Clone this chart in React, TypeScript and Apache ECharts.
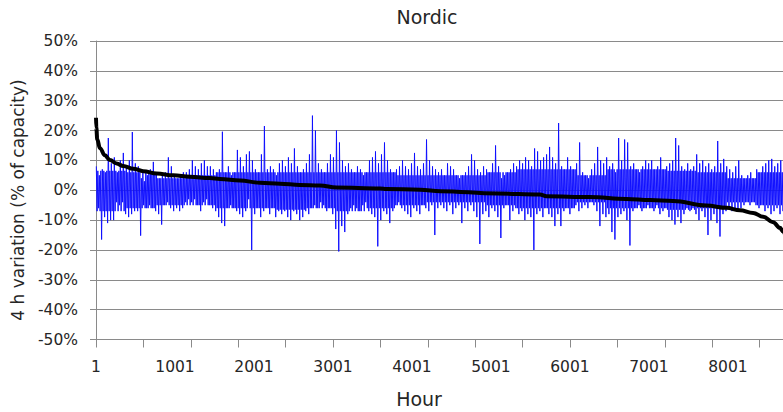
import React, { useEffect, useRef } from "react";
import * as echarts from "echarts";

// ---- data ----
const xTickLabels = ["1", "1001", "2001", "3001", "4001", "5001", "6001", "7001", "8001"];
const columnHours = 38; // one column of the blue trace (~3 px)
const segmentColumns = 10; // one segment of the dense core band (~30 px)

// blue: hourly 4 h variation, per column the high and the low (% of capacity)
const blueHigh = [
  8, 5, 7, 6, 17.5, 9, 11, 6, 10, 12.5,
  8, 10, 19.5, 9, 8, 4, 3, 5, 7, 9.5,
  6, 4, 5, 6, 11, 8, 5, 4, 5, 6,
  6, 7, 10, 8, 7, 9, 10, 8,
  8, 7, 6, 7, 19.6, 6, 8, 5, 6, 13.5,
  11, 8, 12, 13, 10, 7, 6, 12, 21.5, 7,
  8, 7, 5, 9, 10, 8, 11, 9, 14, 8,
  6, 7, 9, 12, 25, 20, 9,
  7, 6, 9, 12, 11, 20, 16, 10, 8, 9,
  7, 6, 8, 7, 5, 6, 10, 11, 13, 9,
  12, 16, 10, 7, 6, 7, 8, 10, 8, 7,
  9, 12.5, 8, 7, 9, 17, 10,
  8, 7, 6, 7, 5, 9, 8, 7, 5, 4,
  5, 6, 8, 12, 10, 7, 6, 8, 7, 6,
  9, 15, 8, 4, 5, 6, 7, 9, 8, 10,
  9, 11, 10, 8, 14, 13,
  10, 11, 12, 14.5, 11, 9, 22.5, 8, 7, 11,
  8, 7, 9, 16, 6, 5, 4, 7, 9, 14.5,
  10, 9, 11, 8, 9, 6, 17.5, 10, 17, 16,
  8, 9, 7, 6, 8, 10,
  9, 10, 7, 8, 11, 7, 8, 9, 10, 17.5,
  15, 8, 7, 9, 7, 8, 12, 9, 10, 8,
  9, 7, 8, 16.5, 9, 10.5, 8, 7, 6, 8,
  10, 5, 4, 5, 6, 4, 7, 6, 8, 9,
  10, 10.5, 8, 9, 10, 6,
];
const blueLow = [
  -6, -16.5, -9, -11, -10, -10, -4, -5, -4, -8,
  -9, -8, -7, -7, -15.2, -5, -6, -5, -6, -7,
  -8, -11.5, -5, -4, -6, -7, -6, -7, -6, -4,
  -3, -4, -3, -5, -7, -4, -3, -5,
  -6, -7, -9, -11, -12, -6, -5, -6, -7, -8,
  -9, -7, -3, -20, -8, -6, -9, -7, -6, -8,
  -6, -9, -7, -8, -7, -9, -10, -7, -8, -10,
  -9, -7, -8, -6, -5, -6, -4,
  -5, -7, -6, -8, -13, -20.5, -12, -14, -8, -6,
  -5, -6, -7, -5, -4, -7, -8, -9, -18.8, -10,
  -7, -8, -11, -7, -5, -4, -6, -7, -8, -9,
  -6, -7, -8, -5, -6, -7, -5,
  -15, -6, -5, -6, -7, -5, -8, -6, -5, -11,
  -6, -7, -5, -7, -9, -18, -8, -7, -9, -6,
  -7, -9, -16, -6, -5, -10, -7, -6, -8, -7,
  -10, -8, -9, -20, -8, -7,
  -9, -6, -8, -9, -12, -8, -12, -7, -6, -8,
  -6, -5, -7, -6, -5, -6, -4, -5, -7, -12,
  -8, -9, -8, -14, -16.5, -9, -8, -7, -10, -18.5,
  -7, -6, -5, -7, -6, -5,
  -6, -7, -5, -8, -7, -6, -9, -10, -11.5, -9,
  -11, -8, -6, -7, -6, -8, -10, -7, -9, -15,
  -10, -8, -11, -15.5, -8, -7, -6, -7, -6, -7,
  -6, -5, -4, -5, -4, -5, -6, -5, -7, -6,
  -8, -7, -6, -8, -7, -6,
];
// blue: edges of the dense core of the trace, per segment of 10 columns
const coreHigh = [6.5, 6, 4, 5, 6, 6, 6, 6, 6, 6, 5, 5, 5, 6, 7, 7, 5, 7, 7, 6.5, 6, 4, 6];
const coreLow = [-7, -6, -5, -5, -6, -6, -6.5, -6, -7, -6, -5, -4, -4, -5, -6, -6, -4, -6, -6, -6.5, -6, -4, -5];

// black: sorted (duration) curve
const durHours = [1, 5, 17, 51, 114, 177, 262, 346, 473, 600, 769, 980, 1190, 1443, 1570, 1823, 2076, 2329, 2582, 2835, 3046, 3595, 3680, 4106, 4360, 5078, 5620, 5705, 6253, 6717, 7013, 7308, 7730, 7983, 8152, 8320, 8447, 8573, 8658, 8696, 8760];
const durValues = [24.3, 21, 17, 14.1, 11.7, 10.1, 9.0, 8.1, 7.2, 6.4, 5.6, 5.0, 4.5, 4.1, 3.8, 3.3, 2.5, 2.2, 1.8, 1.6, 0.9, 0.6, 0.4, 0.2, -0.3, -1.1, -1.4, -2.0, -2.3, -2.9, -3.3, -3.6, -5.1, -5.9, -6.7, -7.6, -8.9, -10.7, -12.6, -13.7, -18];

const FONT = "DejaVu Sans";
const TEXT = "#262626";
const GRID = "#8a8a8a";

export default function App() {
  const ref = useRef<HTMLDivElement>(null);
  useEffect(() => {
    document.body.style.margin = "0";
    const chart = echarts.init(ref.current!, null, { renderer: "svg" });
    const blueData: number[][] = [];
    blueHigh.forEach((h, j) => {
      const s = Math.floor(j / segmentColumns);
      const x0 = j * columnHours;
      blueData.push([x0 + 4, h]);
      blueData.push([x0 + 14, coreLow[s]]);
      blueData.push([x0 + 23, coreHigh[s]]);
      blueData.push([x0 + 33, blueLow[j]]);
    });
    const durData = durHours.map((h, i) => [h - 1, durValues[i]]);
    chart.setOption({
      animation: false,
      textStyle: { fontFamily: FONT, color: TEXT },
      grid: { left: 96, width: 692, top: 41, height: 298.5, containLabel: false, outerBoundsMode: "none" },
      xAxis: [
        {
          type: "value",
          position: "bottom",
          min: 0,
          max: 8760,
          interval: 1000,
          axisLine: { show: true, lineStyle: { color: GRID, width: 1 } },
          axisTick: { show: false },
          splitLine: { show: false },
          axisLabel: {
            showMaxLabel: false,
            margin: 19,
            fontSize: 15.5,
            fontFamily: FONT,
            color: TEXT,
            formatter: (v: number) => {
              const i = Math.round(v / 1000);
              return v % 1000 === 0 && i < xTickLabels.length ? xTickLabels[i] : "";
            },
          },
        },
        {
          type: "value",
          position: "bottom",
          min: 0,
          max: 8760,
          interval: 600,
          axisLine: { show: false },
          axisTick: { show: true, length: 8, lineStyle: { color: GRID } },
          axisLabel: { show: false },
          splitLine: { show: false },
        },
      ],
      yAxis: {
        type: "value",
        min: -50,
        max: 50,
        interval: 10,
        axisLine: { show: true, lineStyle: { color: GRID, width: 1 } },
        axisTick: { show: true, length: 6, lineStyle: { color: GRID } },
        splitLine: { show: true, lineStyle: { color: GRID, width: 1 } },
        axisLabel: {
          margin: 18,
          fontSize: 15.5,
          fontFamily: FONT,
          color: TEXT,
          formatter: (v: number) => v + "%",
        },
      },
      series: [
        {
          type: "line",
          xAxisIndex: 0,
          data: blueData,
          showSymbol: false,
          symbol: "none",
          lineStyle: { color: "#1010ff", width: 1 },
          z: 2,
        },
        {
          type: "line",
          xAxisIndex: 0,
          data: durData,
          showSymbol: false,
          symbol: "none",
          smooth: 0.4,
          smoothMonotone: "x",
          lineStyle: { color: "#000000", width: 4 },
          z: 3,
        },
      ],
      graphic: [
        {
          type: "text",
          x: 427,
          y: 17,
          style: { text: "Nordic", fontFamily: FONT, fontSize: 19, fill: TEXT, align: "center", verticalAlign: "middle" },
        },
        {
          type: "text",
          x: 419,
          y: 399,
          style: { text: "Hour", fontFamily: FONT, fontSize: 19, fill: TEXT, align: "center", verticalAlign: "middle" },
        },
        {
          type: "text",
          x: 18,
          y: 200,
          rotation: Math.PI / 2,
          style: { text: "4 h variation (% of capacity)", fontFamily: FONT, fontSize: 17, fill: TEXT, align: "center", verticalAlign: "middle" },
        },
      ],
    });
    return () => chart.dispose();
  }, []);
  return <div ref={ref} style={{ position: "absolute", left: 0, top: 0, width: 783, height: 412 }} />;
}
